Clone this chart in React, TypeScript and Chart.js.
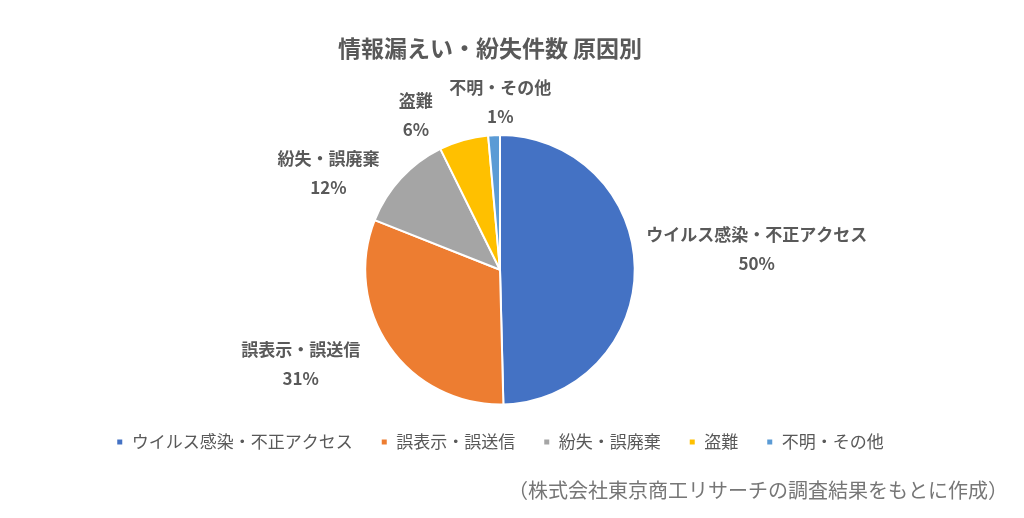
import React, { useEffect, useRef } from "react";
import { Chart, registerables } from "chart.js";

Chart.register(...registerables);

const chartTitle = "情報漏えい・紛失件数 原因別";
const sourceNote = "（株式会社東京商工リサーチの調査結果をもとに作成）";
const categories = ["ウイルス感染・不正アクセス", "誤表示・誤送信", "紛失・誤廃棄", "盗難", "不明・その他"];
const shares = [49.6, 31.4, 11.7, 5.9, 1.4];
const sliceColors = ["#4472C4", "#ED7D31", "#A5A5A5", "#FFC000", "#5B9BD5"];

const FONT = '"Noto Sans CJK JP", "Noto Sans", sans-serif';

// label nudges relative to an anchor placed 40px outside the arc at its mid-angle
const labelNudges: [number, number][] = [
  [82, -19],
  [-56, -6],
  [-43, 22],
  [-37, 13.5],
  [8, 7],
];

const decorPlugin = {
  id: "decor",
  afterDraw(chart: any) {
    const ctx = chart.ctx as CanvasRenderingContext2D;
    const meta = chart.getDatasetMeta(0);
    const data = chart.data.datasets[0].data as number[];
    const total = data.reduce((a, b) => a + b, 0);
    ctx.save();
    // title
    ctx.fillStyle = "#595959";
    ctx.font = `bold 23px ${FONT}`;
    ctx.textAlign = "center";
    ctx.textBaseline = "middle";
    ctx.fillText(chartTitle, 490, 48);
    // data labels
    ctx.font = `bold 17px ${FONT}`;
    meta.data.forEach((arc: any, i: number) => {
      const p = arc.getProps(["x", "y", "startAngle", "endAngle", "outerRadius"], true);
      const mid = (p.startAngle + p.endAngle) / 2;
      const R = p.outerRadius + 40;
      const cx = p.x + Math.cos(mid) * R + labelNudges[i][0];
      const cy = p.y + Math.sin(mid) * R + labelNudges[i][1];
      const pct = Math.round((data[i] / total) * 100) + "%";
      ctx.fillText(String(chart.data.labels[i]), cx, cy - 14.5);
      ctx.fillText(pct, cx, cy + 14.5);
    });
    // source note
    ctx.font = `20px ${FONT}`;
    ctx.fillStyle = "#767676";
    ctx.textAlign = "right";
    ctx.fillText(sourceNote, 1008, 490);
    ctx.restore();
  },
};

export default function App() {
  const ref = useRef<HTMLCanvasElement>(null);
  useEffect(() => {
    if (!ref.current) return;
    const chart = new Chart(ref.current, {
      type: "pie",
      data: {
        labels: categories,
        datasets: [
          {
            data: shares,
            backgroundColor: sliceColors,
            borderColor: "#ffffff",
            borderWidth: 2,
          },
        ],
      },
      options: {
        responsive: false,
        animation: false,
        devicePixelRatio: 1,
        layout: { padding: { top: 134, left: 0, right: 24, bottom: 57.5 } },
        plugins: {
          title: { display: false },
          tooltip: { enabled: false },
          legend: {
            display: true,
            position: "bottom",
            labels: {
              boxWidth: 7,
              boxHeight: 7,
              padding: 28,
              color: "#595959",
              font: { family: FONT, size: 17 },
            },
          },
        },
      },
      plugins: [decorPlugin],
    });
    return () => chart.destroy();
  }, []);
  return (
    <div style={{ position: "fixed", left: 0, top: 0, width: 1024, height: 518, background: "#fff" }}>
      <canvas ref={ref} width={1024} height={518} />
    </div>
  );
}
